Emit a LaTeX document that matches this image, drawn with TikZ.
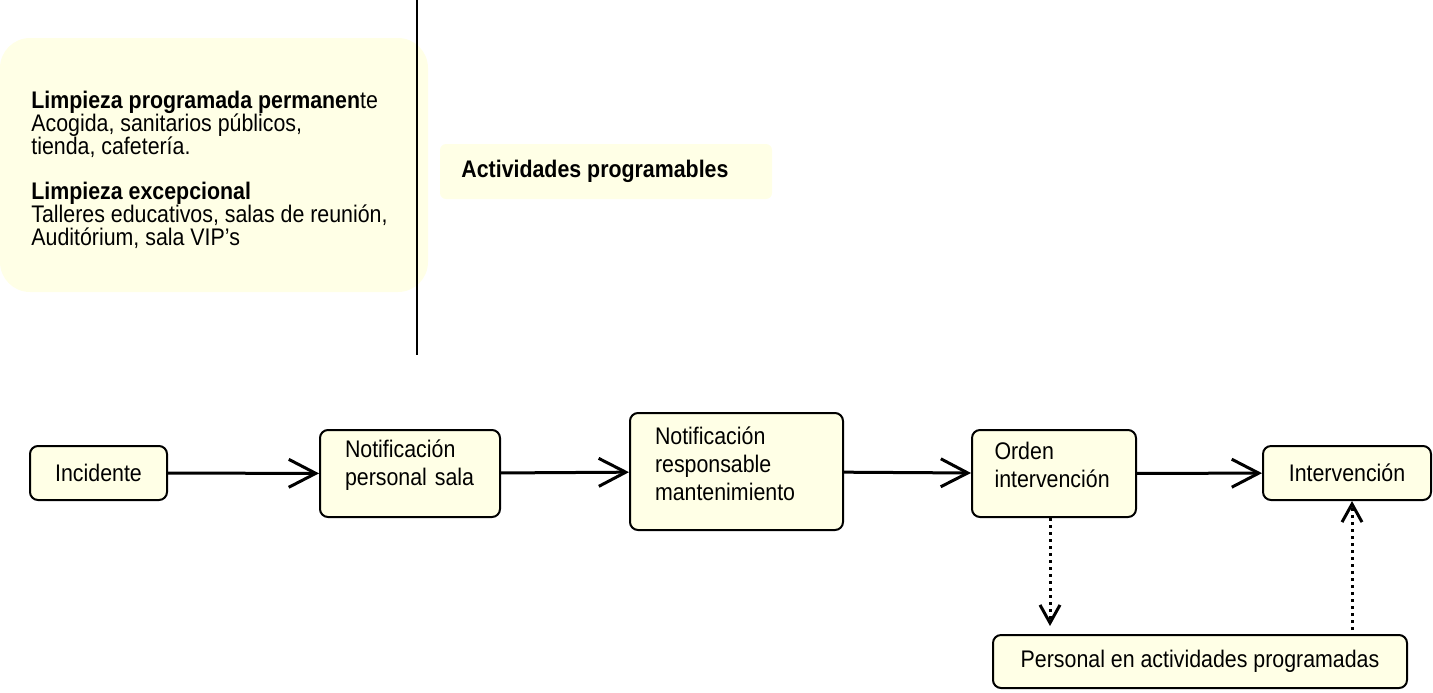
\documentclass[tikz,border=0pt]{standalone}
\usepackage{fontspec}
\setmainfont[FakeStretch=0.89]{Liberation Sans}
\usepackage{tikz}
\usetikzlibrary{positioning, arrows.meta}
\definecolor{boxfill}{RGB}{255,255,230}
\newcommand{\tightlines}{\lineskiplimit=-20pt\relax}

\begin{document}
\begin{tikzpicture}[x=0.5pt, y=-0.5pt,
  box/.style={draw, line width=1pt, rounded corners=4pt, fill=boxfill,
    font=\fontsize{12}{14}\selectfont, inner sep=0pt},
  lifted/.style={execute at end node={\endgraf\vspace*{#1}}},
  flow/.style={line width=1.5pt, -{Straight Barb[length=13.5pt, width=14pt]}},
  link/.style={line width=1.5pt, dotted, -{Straight Barb[length=9pt, width=10pt]}}]

\useasboundingbox (0,0) rectangle (1433,692);

% zonas y actividades
\fill[boxfill, rounded corners=15pt] (0,38) rectangle (428,292);
\node[anchor=north west, align=left, inner sep=0pt,
  font=\fontsize{12}{11.35}\selectfont\tightlines] (zonas) at (31,91)
  {\textbf{Limpieza programada permanen}te\\
   Acogida, sanitarios públicos,\\
   tienda, cafetería.\\[11.35pt]
   \textbf{Limpieza excepcional}\\
   Talleres educativos, salas de reunión,\\
   Auditórium, sala VIP’s};

\draw[line width=1pt] (417,0) -- (417,355);

\fill[boxfill, rounded corners=3pt] (440,144) rectangle (772,199);
\node[anchor=west, inner sep=0pt, font=\fontsize{12}{14}\selectfont\bfseries]
  (actividades) at (461,171.5) {Actividades programables};

% flujo
\node[box, minimum width=68.5pt, minimum height=27pt] (incidente) at (98.5,473) {Incidente};
\node[box, lifted=8pt, minimum height=43.5pt, text width=65pt, inner xsep=12.5pt, align=left]
  (personal) at (410,473.5) {Notificación\\personal sala};
\node[box, lifted=8pt, minimum height=58.5pt, text width=81.5pt, inner xsep=12.5pt, align=left]
  (responsable) at (736.5,471.5) {Notificación\\responsable\\mantenimiento};
\node[box, lifted=9pt, minimum height=43.5pt, text width=59.5pt, inner xsep=11.25pt, align=left]
  (orden) at (1054,473.5) {Orden\\intervención};
\node[box, minimum width=84pt, minimum height=27pt] (intervencion) at (1347,473) {Intervención};
\node[box, minimum width=207pt, minimum height=26.5pt] (programadas) at (1200,661.5)
  {Personal en actividades programadas};

\draw[flow] (incidente) -- (personal);
\draw[flow] (personal) -- (responsable);
\draw[flow] (responsable) -- (orden);
\draw[flow] (orden) -- (intervencion);
\draw[link, shorten >=4pt] ([xshift=-2pt]orden.south) -- ([xshift=-2pt]orden.south |- programadas.north);
\draw[link, shorten <=2pt] ([xshift=2.5pt]programadas.north -| intervencion.south) -- ([xshift=2.5pt]intervencion.south);

\end{tikzpicture}
\end{document}
